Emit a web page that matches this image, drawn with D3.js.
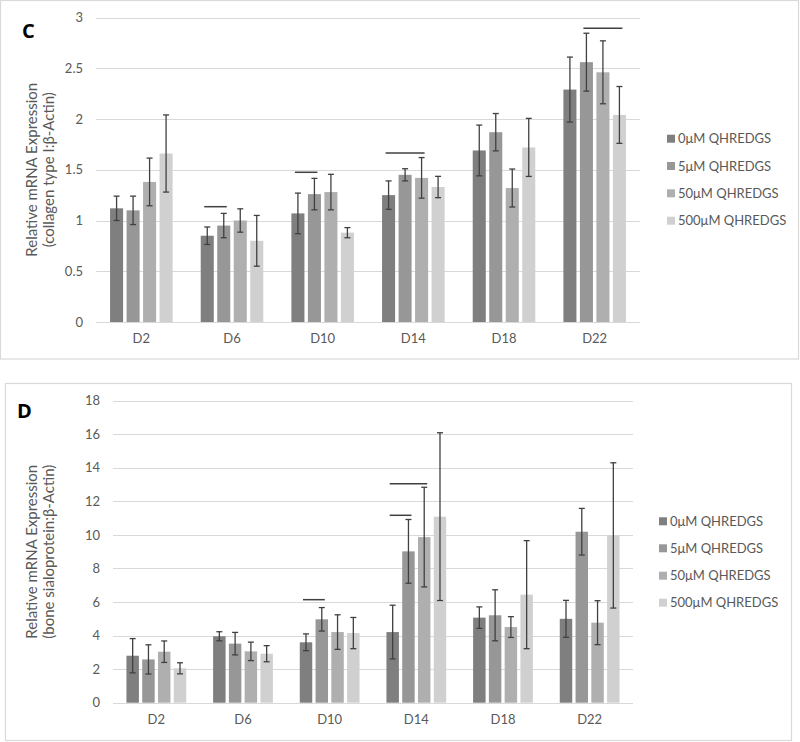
<!DOCTYPE html>
<html><head><meta charset="utf-8">
<script src="https://cdn.jsdelivr.net/npm/d3@7"></script>
<style>body{margin:0;background:#fff}svg{display:block}</style>
</head><body>
<svg id="chart" width="800" height="742"></svg>
<script>
const categories = ["D2","D6","D10","D14","D18","D22"];
const series = ["0μM QHREDGS","5μM QHREDGS","50μM QHREDGS","500μM QHREDGS"];
const colors = ["#7f7f7f","#979797","#afafaf","#d0d0d0"];

// Panel C: collagen type I
const colValues = [
  [1.12, 0.85, 1.07, 1.25, 1.69, 2.29],
  [1.10, 0.95, 1.26, 1.45, 1.87, 2.56],
  [1.38, 1.00, 1.28, 1.42, 1.32, 2.46],
  [1.66, 0.80, 0.88, 1.33, 1.72, 2.04]
];
const colErrors = [
  [0.12, 0.086, 0.20, 0.14, 0.25, 0.32],
  [0.14, 0.12, 0.155, 0.06, 0.184, 0.285],
  [0.235, 0.115, 0.175, 0.20, 0.187, 0.31],
  [0.38, 0.25, 0.05, 0.105, 0.286, 0.28]
];
const colTicks = [0, 0.5, 1, 1.5, 2, 2.5, 3];
const colTickLabels = ["0","0.5","1","1.5","2","2.5","3"];
const colSig = [
  {cat:"D6", from:0, to:1, y:1.136},
  {cat:"D10", from:0, to:1, y:1.475},
  {cat:"D14", from:0, to:2, y:1.665},
  {cat:"D22", from:1, to:3, y:2.894}
];

// Panel D: bone sialoprotein
const bspValues = [
  [2.80, 3.96, 3.60, 4.21, 5.07, 5.00],
  [2.58, 3.52, 4.97, 9.02, 5.21, 10.19],
  [3.04, 3.06, 4.21, 9.87, 4.51, 4.77],
  [2.05, 2.92, 4.15, 11.09, 6.44, 9.97]
];
const bspErrors = [
  [1.02, 0.27, 0.50, 1.60, 0.64, 1.10],
  [0.87, 0.67, 0.70, 1.90, 1.52, 1.39],
  [0.64, 0.55, 1.03, 2.97, 0.62, 1.31],
  [0.33, 0.48, 0.93, 5.00, 3.22, 4.33]
];
const bspTicks = [0, 2, 4, 6, 8, 10, 12, 14, 16, 18];
const bspTickLabels = ["0","2","4","6","8","10","12","14","16","18"];
const bspSig = [
  {cat:"D10", from:0, to:1, y:6.14},
  {cat:"D14", from:0, to:2, y:13.05},
  {cat:"D14", from:0, to:1, y:11.17}
];

const svg = d3.select("#chart");
const FONT = "Lato, 'Open Sans', sans-serif";
const TXT = "#595959";

function drawPanel(o) {
  const g = svg.append("g");
  g.append("rect").attr("x", o.frame[0]).attr("y", o.frame[1])
    .attr("width", o.frame[2]).attr("height", o.frame[3])
    .attr("fill", "#fff").attr("stroke", "#d9d9d9").attr("stroke-width", 1.2);

  const x0 = d3.scaleBand().domain(categories).range([o.left, o.right]);
  const step = x0.bandwidth() * 0.182;
  const y = d3.scaleLinear().domain([0, o.max]).range([o.bottom, o.top]);

  g.selectAll(".grid").data(o.ticks).join("line")
    .attr("x1", o.left).attr("x2", o.right)
    .attr("y1", d => Math.round(y(d)) + 0.5).attr("y2", d => Math.round(y(d)) + 0.5)
    .attr("stroke", "#d9d9d9").attr("stroke-width", 1);

  const yAxis = d3.axisLeft(y).tickValues(o.ticks).tickFormat((d, i) => o.tickLabels[i]).tickSize(0).tickPadding(0);
  const ya = g.append("g").attr("transform", `translate(${o.tickX},0)`).call(yAxis);
  ya.select(".domain").remove();
  ya.selectAll("text").attr("fill", TXT).style("font-family", FONT).style("font-size", "13px");

  const xAxis = d3.axisBottom(x0).tickSize(0).tickPadding(0);
  const xa = g.append("g").attr("transform", `translate(0,${o.xLabelY})`).call(xAxis);
  xa.select(".domain").remove();
  xa.selectAll("text").attr("fill", TXT).style("font-family", FONT).style("font-size", "13px");

  const x1For = c => {
    const cx = x0(c) + x0.bandwidth() / 2;
    return d3.scaleBand().domain(d3.range(series.length))
      .range([cx - 2 * step, cx + 2 * step]).paddingInner(0.21).paddingOuter(0.105);
  };

  series.forEach((s, si) => {
    const data = categories.map((c, ci) => ({c, v: o.values[si][ci], e: o.errors[si][ci]}));
    g.selectAll(null).data(data).join("rect")
      .attr("x", d => x1For(d.c)(si)).attr("width", d => x1For(d.c).bandwidth())
      .attr("y", d => y(d.v)).attr("height", d => y(0) - y(d.v))
      .attr("fill", colors[si]);
  });
  series.forEach((s, si) => {
    const data = categories.map((c, ci) => ({c, v: o.values[si][ci], e: o.errors[si][ci]}));
    const cxf = d => x1For(d.c)(si) + x1For(d.c).bandwidth() / 2;
    const eg = g.selectAll(null).data(data).join("g").attr("stroke", "#404040").attr("stroke-width", 1.3);
    eg.append("line").attr("x1", cxf).attr("x2", cxf)
      .attr("y1", d => y(d.v + d.e)).attr("y2", d => y(d.v - d.e));
    eg.append("line").attr("x1", d => cxf(d) - 3).attr("x2", d => cxf(d) + 3)
      .attr("y1", d => y(d.v + d.e)).attr("y2", d => y(d.v + d.e));
    eg.append("line").attr("x1", d => cxf(d) - 3).attr("x2", d => cxf(d) + 3)
      .attr("y1", d => y(d.v - d.e)).attr("y2", d => y(d.v - d.e));
  });
  g.selectAll(".sig").data(o.sig).join("line")
    .attr("x1", d => { const b = x1For(d.cat); return b(d.from) + b.bandwidth() / 2 - 3; })
    .attr("x2", d => { const b = x1For(d.cat); return b(d.to) + b.bandwidth() / 2 + 3; })
    .attr("y1", d => y(d.y)).attr("y2", d => y(d.y))
    .attr("stroke", "#404040").attr("stroke-width", 1.5);

  const cy = (o.top + o.bottom) / 2;
  const t = g.append("text").attr("transform", `translate(${o.titleX},${cy}) rotate(-90)`)
    .attr("text-anchor", "middle").attr("fill", TXT)
    .style("font-family", FONT).style("font-size", "15px");
  t.append("tspan").attr("x", 0).attr("dy", 0).text("Relative mRNA Expression");
  t.append("tspan").attr("x", 0).attr("dy", 17).text(o.titleLine2);

  g.append("text").attr("x", o.letterPos[0]).attr("y", o.letterPos[1])
    .attr("fill", "#000").style("font-family", "'Open Sans', sans-serif")
    .style("font-weight", "bold").style("font-size", "20px").text(o.letter);

  const lg = g.append("g");
  series.forEach((s, si) => {
    const ly = o.legendY[si];
    lg.append("rect").attr("x", o.legendX).attr("y", ly - 4).attr("width", 8).attr("height", 8).attr("fill", colors[si]);
    lg.append("text").attr("x", o.legendX + 11).attr("y", ly).attr("dy", "0.35em")
      .attr("fill", TXT).style("font-family", FONT).style("font-size", "13px").text(s);
  });
}

drawPanel({
  frame: [0.5, 0.5, 798, 358.5], left: 96, right: 640, top: 17.5, bottom: 322, max: 3,
  ticks: colTicks, tickLabels: colTickLabels, values: colValues, errors: colErrors, sig: colSig,
  tickX: 83, xLabelY: 334, titleX: 37, titleLine2: "(collagen type I:β-Actin)",
  letter: "C", letterPos: [22, 38], legendX: 667, legendY: [138.7, 166, 193.3, 220.7]
});
drawPanel({
  frame: [5.5, 383.5, 786, 357], left: 113, right: 633, top: 400.7, bottom: 702.7, max: 18,
  ticks: bspTicks, tickLabels: bspTickLabels, values: bspValues, errors: bspErrors, sig: bspSig,
  tickX: 100, xLabelY: 715, titleX: 37, titleLine2: "(bone sialoprotein:β-Actin)",
  letter: "D", letterPos: [17, 418], legendX: 659, legendY: [521.3, 548.3, 575.7, 602.7]
});
</script>
</body></html>
